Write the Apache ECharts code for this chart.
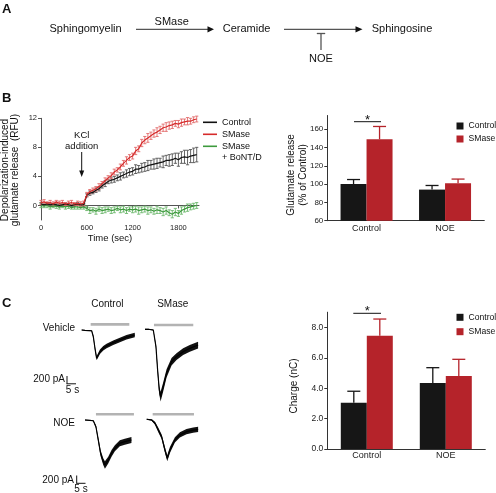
<!DOCTYPE html>
<html><head><meta charset="utf-8">
<script src="https://cdn.jsdelivr.net/npm/echarts@6/dist/echarts.min.js"></script>
<style>html,body{margin:0;padding:0;background:#fff}#c{width:496px;height:493px}</style>
</head><body><div id="c"></div>
<script>
// ---------- Panel B (left): glutamate release time course ----------
var timeSec = [0,40,80,120,160,200,240,280,320,360,400,440,480,520,560,600,640,680,720,760,800,840,880,920,960,1000,1040,1080,1120,1160,1200,1240,1280,1320,1360,1400,1440,1480,1520,1560,1600,1640,1680,1720,1760,1800,1840,1880,1920,1960,2000,2040];
var controlRFU = [0.2,0.1,0.2,0.1,0.2,0.1,0.0,0.1,0.2,0.1,0.0,0.1,0.2,0.1,0.1,
 1.4,1.7,1.8,2.1,2.3,2.7,3.0,3.3,3.5,3.6,3.8,4.0,4.2,4.4,4.6,4.7,5.0,5.0,5.2,5.3,5.5,5.6,5.7,5.8,5.9,6.0,6.2,6.2,6.3,6.5,6.3,6.6,6.7,6.6,6.8,6.9,7.0];
var smaseRFU = [0.4,0.5,0.3,0.4,0.2,0.5,0.3,0.4,0.2,0.3,0.4,0.2,0.3,0.2,0.3,
 1.5,1.9,2.1,2.3,2.6,3.0,3.4,3.8,4.1,4.6,4.9,5.3,5.8,6.2,6.6,6.8,7.5,7.8,8.6,9.0,9.3,9.6,9.9,10.1,10.4,10.7,10.8,11.0,11.1,11.3,11.2,11.4,11.5,11.6,11.6,11.8,11.9];
var bontRFU = [0.0,-0.1,0.0,-0.2,-0.1,-0.1,-0.2,-0.1,-0.2,-0.1,-0.3,-0.2,-0.2,-0.3,-0.2,
 -0.4,-0.7,-0.6,-0.8,-0.5,-0.7,-0.6,-0.5,-0.7,-0.6,-0.4,-0.6,-0.5,-0.7,-0.5,-0.6,-0.5,-0.7,-0.6,-0.5,-0.7,-0.6,-0.8,-0.6,-0.7,-0.9,-0.7,-1.0,-1.2,-0.9,-1.1,-0.7,-0.5,-0.3,-0.2,-0.1,0.0];
var controlErr = [0.2,0.1,0.2,0.2,0.1,0.2,0.2,0.1,0.2,0.2,0.1,0.2,0.2,0.1,0.2,
 0.2,0.3,0.2,0.3,0.3,0.3,0.4,0.3,0.4,0.4,0.4,0.5,0.4,0.5,0.5,0.5,0.6,0.5,0.6,0.6,0.7,0.6,0.7,0.7,0.6,0.8,0.7,0.8,0.8,0.7,0.9,0.8,0.9,1.0,0.9,1.0,1.0];
var smaseErr = [0.3,0.3,0.2,0.3,0.3,0.2,0.3,0.3,0.2,0.3,0.3,0.2,0.3,0.3,0.3,
 0.3,0.3,0.3,0.3,0.4,0.3,0.4,0.3,0.4,0.4,0.3,0.4,0.4,0.5,0.4,0.4,0.5,0.4,0.5,0.5,0.6,0.5,0.5,0.6,0.5,0.5,0.6,0.5,0.5,0.4,0.5,0.5,0.4,0.5,0.4,0.4,0.4];
var bontErr = [0.3,0.2,0.3,0.3,0.2,0.3,0.3,0.2,0.3,0.3,0.2,0.3,0.3,0.2,0.3,
 0.3,0.4,0.3,0.4,0.3,0.4,0.4,0.3,0.4,0.4,0.3,0.4,0.4,0.4,0.3,0.4,0.4,0.5,0.4,0.4,0.5,0.4,0.4,0.5,0.4,0.5,0.5,0.4,0.5,0.5,0.4,0.5,0.4,0.5,0.4,0.4,0.4];
var timeTicks = [0,600,1200,1800];
var rfuTicks = [0,4,8,12];

// ---------- Panel B (right): glutamate release bars ----------
var barCats = ['Control','NOE'];
var releaseControl = [100, 94];
var releaseControlErr = [5, 4.5];
var releaseSMase = [149, 101];
var releaseSMaseErr = [14, 4.5];
var releaseTicks = [60,80,100,120,140,160];

// ---------- Panel C (right): charge bars ----------
var chargeControl = [3.05, 4.35];
var chargeControlErr = [0.75, 1.0];
var chargeSMase = [7.45, 4.8];
var chargeSMaseErr = [1.1, 1.1];
var chargeTicks = [0,2,4,6,8];

// ---------- Panel C (left): current traces (s, pA) ----------
var vehCtrlT = [0,2,4,6,7,8,9,11,13,15,19,23,27,32];
var vehCtrlI = [0,-10,-15,-20,-178,-488,-755,-579,-488,-427,-338,-267,-195,-133];
var vehCtrlN = [12,12,12,15,40,50,55,60,60,60,60,60,60,60];
var vehSmT = [0,2,5,6.6,7.6,8.6,9.4,11,13,16,19,23,27,32];
var vehSmI = [0,0,-20,-460,-1085,-1620,-1797,-1530,-1175,-865,-730,-598,-508,-420];
var vehSmN = [12,12,15,60,90,110,130,120,110,100,90,90,90,90];
var noeCtrlT = [0,3,5,6.6,8,9.4,11,12,14,16,18,21,24,28];
var noeCtrlI = [0,-10,-20,-180,-533,-890,-1110,-1200,-1067,-890,-755,-620,-578,-533];
var noeCtrlN = [12,12,15,40,60,80,90,100,90,90,80,80,80,80];
var noeSmT = [0,3,5,7,9,11,12.4,14,17,20,24,28,31];
var noeSmI = [0,-20,-107,-285,-464,-819,-1040,-819,-552,-419,-331,-290,-267];
var noeSmN = [12,20,40,60,60,70,80,80,70,70,70,70,70];
// application bars: [start s, end s], level pA
var vehCtrlApp = [[5.4,28.7],150];
var vehSmApp = [[5.4,29.1],115];
var noeCtrlApp = [[6.6,29.5],152];
var noeSmApp = [[3.6,28.5],133];

var FONT = 'Liberation Sans, Arial, sans-serif';
var RED = '#b5232a', BLACK = '#161616';

function pairs(xs, ys){ return xs.map(function(x,i){ return [x, ys[i]]; }); }
function errData(xs, ys, es){ return xs.map(function(x,i){ return [x, ys[i]-es[i], ys[i]+es[i]]; }); }
function plain(v){ return String(v); }

function tsErr(color){
  return function(params, api){
    var x = api.value(0);
    var p1 = api.coord([x, api.value(1)]), p2 = api.coord([x, api.value(2)]);
    var w = 1.6, st = {stroke: color, lineWidth: 0.9};
    return {type:'group', children:[
      {type:'line', shape:{x1:p1[0],y1:p1[1],x2:p2[0],y2:p2[1]}, style:st},
      {type:'line', shape:{x1:p1[0]-w,y1:p1[1],x2:p1[0]+w,y2:p1[1]}, style:st},
      {type:'line', shape:{x1:p2[0]-w,y1:p2[1],x2:p2[0]+w,y2:p2[1]}, style:st}
    ]};
  };
}
function barErr(offset, color){
  return function(params, api){
    var c = api.value(0), v = api.value(1), e = api.value(2);
    var p1 = api.coord([c, v]), p2 = api.coord([c, v+e]);
    var x = p1[0] + offset, w = 6.5, st = {stroke: color, lineWidth: 1.3};
    return {type:'group', children:[
      {type:'line', shape:{x1:x,y1:p1[1],x2:x,y2:p2[1]}, style:st},
      {type:'line', shape:{x1:x-w,y1:p2[1],x2:x+w,y2:p2[1]}, style:st}
    ]};
  };
}
function barErrData(vals, errs){ return vals.map(function(v,i){ return [i, v, errs[i]]; }); }
function bandItem(t, I, N){
  return function(params, api){
    var up = [], lo = [];
    for (var i = 0; i < t.length; i++) {
      up.push(api.coord([t[i], I[i] + N[i]]));
      lo.push(api.coord([t[i], I[i] - N[i]]));
    }
    return {type:'polygon', shape:{points: up.concat(lo.reverse())}, style:{fill:'#111'}};
  };
}

var series = [];
// B left
[[bontRFU,bontErr,'#6cb86c'],[controlRFU,controlErr,'#555'],[smaseRFU,smaseErr,'#e26b6b']].forEach(function(s){
  series.push({type:'custom', xAxisIndex:0, yAxisIndex:0, renderItem: tsErr(s[2]), data: errData(timeSec, s[0], s[1]), encode:{x:0,y:[1,2]}, silent:true, z:2});
});
series.push({name:'SMase + BoNT/D', type:'line', xAxisIndex:0, yAxisIndex:0, data:pairs(timeSec,bontRFU), showSymbol:false, color:'#3d9a3d', lineStyle:{width:1.2}, z:3});
series.push({name:'Control', type:'line', xAxisIndex:0, yAxisIndex:0, data:pairs(timeSec,controlRFU), showSymbol:false, color:'#111', lineStyle:{width:1.2}, z:3});
series.push({name:'SMase', type:'line', xAxisIndex:0, yAxisIndex:0, data:pairs(timeSec,smaseRFU), showSymbol:false, color:'#d62b2b', lineStyle:{width:1.2}, z:3});

// B right + C right bars
[[1, releaseControl, releaseControlErr, releaseSMase, releaseSMaseErr],[2, chargeControl, chargeControlErr, chargeSMase, chargeSMaseErr]].forEach(function(b){
  series.push({name:'Control', type:'bar', xAxisIndex:b[0], yAxisIndex:b[0], data:b[1], barWidth:26, barGap:'0%', itemStyle:{color:BLACK}});
  series.push({name:'SMase', type:'bar', xAxisIndex:b[0], yAxisIndex:b[0], data:b[3], barWidth:26, barGap:'0%', itemStyle:{color:RED}});
  series.push({type:'custom', xAxisIndex:b[0], yAxisIndex:b[0], renderItem: barErr(-13, BLACK), data: barErrData(b[1], b[2]), encode:{x:0,y:[1,2]}, silent:true, z:1});
  series.push({type:'custom', xAxisIndex:b[0], yAxisIndex:b[0], renderItem: barErr(13, RED), data: barErrData(b[3], b[4]), encode:{x:0,y:[1,2]}, silent:true, z:1});
});

// traces
[[3,vehCtrlT,vehCtrlI,vehCtrlN,vehCtrlApp],[4,vehSmT,vehSmI,vehSmN,vehSmApp],[5,noeCtrlT,noeCtrlI,noeCtrlN,noeCtrlApp],[6,noeSmT,noeSmI,noeSmN,noeSmApp]].forEach(function(tr){
  var k = tr[0], t = tr[1], I = tr[2], N = tr[3];
  series.push({type:'custom', xAxisIndex:k, yAxisIndex:k, data:[[t[0], I[0]]], renderItem: bandItem(t, I, N), silent:true, clip:false});
  series.push({type:'line', xAxisIndex:k, yAxisIndex:k, data:pairs(t, I), symbol:'none', lineStyle:{width:1.2, color:'#000'}, silent:true});
  var app = tr[4];
  series.push({type:'line', xAxisIndex:k, yAxisIndex:k, data:pairs(app[0], [app[1], app[1]]), symbol:'none', lineStyle:{width:2.6, color:'#b3b3b3'}, silent:true});
});

var axisLn = {lineStyle:{color:'#333', width:1}};

var traceGrids = [[81.7,320.6],[145,319.9],[85,410.6],[146.7,409.9]];
var grids = [
  {left:41, top:118.3, width:158, height:101.7},
  {left:327.3, top:115.5, width:157, height:105.2},
  {left:327.3, top:312.2, width:158, height:136.8}
].concat(traceGrids.map(function(g){ return {left:g[0], top:g[1], width:56.4, height:84.4}; }));
grids.forEach(function(g){ g.outerBoundsMode = 'none'; g.containLabel = false; });

var xAxes = [
  {gridIndex:0, type:'value', min:0, max:2070, splitLine:{show:false}, axisLine:{lineStyle:{color:'#555'}}, axisTick:{length:3, customValues:timeTicks, lineStyle:{color:'#555'}}, axisLabel:{customValues:timeTicks, formatter:plain, fontSize:7.5, color:'#222', margin:4, fontFamily:FONT}},
  {gridIndex:1, type:'category', data:barCats, axisLine:axisLn, axisTick:{show:false}, axisLabel:{fontSize:9, color:'#222', margin:3, fontFamily:FONT}},
  {gridIndex:2, type:'category', data:barCats, axisLine:axisLn, axisTick:{show:false}, axisLabel:{fontSize:9, color:'#222', margin:2, fontFamily:FONT}}
];
var yAxes = [
  {gridIndex:0, type:'value', min:-2, max:12, splitLine:{show:false}, axisLine:{show:true, lineStyle:{color:'#555'}}, axisTick:{show:true, length:3, customValues:rfuTicks, lineStyle:{color:'#555'}}, axisLabel:{customValues:rfuTicks, formatter:plain, fontSize:7.5, color:'#222', margin:4, fontFamily:FONT}},
  {gridIndex:1, type:'value', min:60, max:175, splitLine:{show:false}, axisLine:{show:true, lineStyle:{color:'#333'}}, axisTick:{show:true, length:3, customValues:releaseTicks}, axisLabel:{customValues:releaseTicks, formatter:plain, fontSize:8, color:'#222', margin:4, fontFamily:FONT}},
  {gridIndex:2, type:'value', min:0, max:9, splitLine:{show:false}, axisLine:{show:true, lineStyle:{color:'#333'}}, axisTick:{show:true, length:3, customValues:chargeTicks}, axisLabel:{customValues:chargeTicks, fontSize:8.5, color:'#222', margin:4, fontFamily:FONT, formatter:function(v){ return v.toFixed(1); }}}
];
for (var k = 3; k <= 6; k++) {
  xAxes.push({gridIndex:k, type:'value', min:0, max:34, show:false});
  yAxes.push({gridIndex:k, type:'value', min:-2000, max:250, show:false});
}

function txt(s, x, y, size, align, extra){
  var st = {text:s, x:x, y:y, fontSize:size, fontFamily:FONT, fill:'#111', align:align||'left', verticalAlign:'middle'};
  if (extra) for (var e in extra) st[e] = extra[e];
  return {type:'text', style:st, silent:true};
}
function vtxt(s, x, y, size){
  return {type:'text', x:x, y:y, rotation:Math.PI/2, style:{text:s, x:0, y:0, fontSize:size, fontFamily:FONT, fill:'#111', align:'center', verticalAlign:'middle'}, silent:true};
}
function ln(x1,y1,x2,y2,color,w){ return {type:'line', shape:{x1:x1,y1:y1,x2:x2,y2:y2}, style:{stroke:color||'#111', lineWidth:w||1}, silent:true}; }
function tri(pts){ return {type:'polygon', shape:{points:pts}, style:{fill:'#111'}, silent:true}; }

var graphics = [
  // Panel A
  txt('A', 2, 9.5, 13, 'left', {fontWeight:'bold'}),
  txt('Sphingomyelin', 49.5, 29, 11),
  ln(136, 29.3, 209, 29.3, '#555', 1.3), tri([[207.5,26.2],[214,29.3],[207.5,32.4]]),
  txt('SMase', 171.7, 22, 11, 'center'),
  txt('Ceramide', 222.7, 29, 11),
  ln(284, 29.3, 357, 29.3, '#555', 1.3), tri([[355.5,26.2],[362.5,29.3],[355.5,32.4]]),
  ln(321, 33.5, 321, 50, '#555', 1.3), ln(316.8, 33.5, 325.2, 33.5, '#555', 1.3),
  txt('NOE', 321, 58.5, 11, 'center'),
  txt('Sphingosine', 371.7, 29, 11),
  // Panel B
  txt('B', 2, 98.5, 13, 'left', {fontWeight:'bold'}),
  vtxt('Depolarization-induced', 5, 170, 10),
  vtxt('glutamate release  (RFU)', 15.5, 170, 10),
  txt('Time (sec)', 110, 238, 9.5, 'center'),
  txt('KCl', 81.7, 135.5, 9.5, 'center'),
  txt('addition', 81.7, 146.5, 9.5, 'center'),
  ln(81.7, 152, 81.7, 172, '#111', 1), tri([[79.2,170.5],[81.7,177],[84.2,170.5]]),
  txt('+ BoNT/D', 222, 157.5, 9),
  vtxt('Glutamate release', 291.7, 175, 10),
  vtxt('(% of Control)', 303.3, 175, 10),
  ln(354, 121.7, 381, 121.7, '#111', 1),
  txt('*', 367.5, 120, 13, 'center'),
  // Panel C
  txt('C', 2, 303.5, 13, 'left', {fontWeight:'bold'}),
  txt('Control', 107.3, 304.3, 10, 'center'),
  txt('SMase', 172.7, 304.3, 10, 'center'),
  txt('Vehicle', 75, 328.7, 10, 'right'),
  txt('NOE', 75, 423.3, 10, 'right'),
  txt('200 pA', 65, 379.5, 10, 'right'),
  ln(67, 376, 67, 383.8, '#111', 1), ln(66.5, 383.8, 76, 383.8, '#111', 1),
  txt('5 s', 72.5, 390.5, 10, 'center'),
  txt('200 pA', 74, 480, 10, 'right'),
  ln(76.7, 475.5, 76.7, 483.3, '#111', 1), ln(76.2, 483.3, 85.5, 483.3, '#111', 1),
  txt('5 s', 81, 489.5, 10, 'center'),
  vtxt('Charge (nC)', 294.3, 386, 10),
  ln(353.3, 313.3, 381, 313.3, '#111', 1),
  txt('*', 367.2, 311.5, 13, 'center')
];

var chart = echarts.init(document.getElementById('c'), null, {renderer:'canvas'});
chart.setOption({
  animation:false,
  backgroundColor:'#fff',
  textStyle:{fontFamily:FONT},
  grid: grids,
  xAxis: xAxes,
  yAxis: yAxes,
  legend: [
    {left:203, top:116.3, padding:0, orient:'vertical', icon:'rect', itemWidth:14, itemHeight:1.6, itemGap:0, selectedMode:false,
     textStyle:{fontSize:9, color:'#111', lineHeight:12, fontFamily:FONT},
     formatter:function(n){ return n === 'SMase + BoNT/D' ? 'SMase' : n; },
     data:[{name:'Control', itemStyle:{color:'#111'}},{name:'SMase', itemStyle:{color:'#d62b2b'}},{name:'SMase + BoNT/D', itemStyle:{color:'#3d9a3d'}}]},
    {left:456.5, top:120.5, padding:0, orient:'vertical', icon:'rect', itemWidth:7, itemHeight:7, itemGap:2, selectedMode:false,
     textStyle:{fontSize:8.6, color:'#111', lineHeight:11, fontFamily:FONT},
     data:[{name:'Control', itemStyle:{color:BLACK}},{name:'SMase', itemStyle:{color:RED}}]},
    {left:456.5, top:311.8, padding:0, orient:'vertical', icon:'rect', itemWidth:7, itemHeight:7, itemGap:3.4, selectedMode:false,
     textStyle:{fontSize:8.6, color:'#111', lineHeight:11, fontFamily:FONT},
     data:[{name:'Control', itemStyle:{color:BLACK}},{name:'SMase', itemStyle:{color:RED}}]}
  ],
  series: series,
  graphic: graphics
});
</script></body></html>
